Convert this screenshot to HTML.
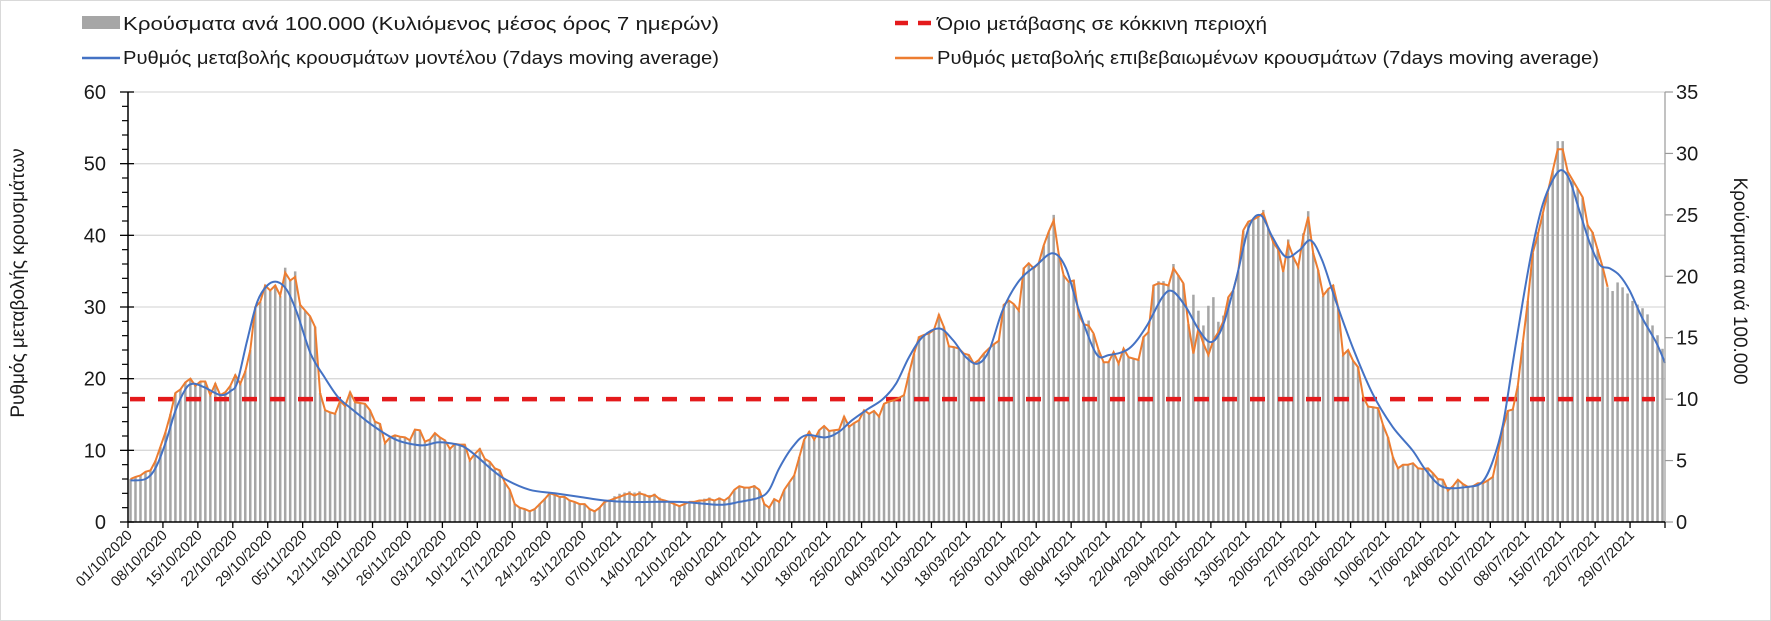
<!DOCTYPE html>
<html><head><meta charset="utf-8">
<style>
html,body{margin:0;padding:0;background:#fff;}
svg{display:block;font-family:"Liberation Sans",Arial,sans-serif;}
</style></head>
<body>
<svg id="chart" width="1771" height="621" viewBox="0 0 1771 621" xmlns="http://www.w3.org/2000/svg">
<rect x="0.5" y="0.5" width="1770" height="620" fill="#fff" stroke="#d9d9d9"/>
<g id="grid"></g>
<g id="bars"></g>
<line id="redline" stroke="#e41a1c" stroke-width="4.5" stroke-dasharray="15,13"/>
<path id="orange" fill="none" stroke="#ed7d31" stroke-width="2"/>
<path id="blue" fill="none" stroke="#4472c4" stroke-width="2"/>
<g id="axes"></g>
<g font-size="18" fill="#1a1a1a">
  <g>
    <rect x="82" y="16" width="38" height="13" fill="#a6a6a6"/>
    <text x="123" y="30" textLength="596" lengthAdjust="spacingAndGlyphs">Κρούσματα ανά 100.000 (Κυλιόμενος μέσος όρος 7 ημερών)</text>
  </g>
  <g>
    <line x1="82" y1="58" x2="120" y2="58" stroke="#4472c4" stroke-width="2.5"/>
    <text x="123" y="64" textLength="596" lengthAdjust="spacingAndGlyphs">Ρυθμός μεταβολής κρουσμάτων μοντέλου (7days moving average)</text>
  </g>
  <g>
    <line x1="895" y1="23" x2="933" y2="23" stroke="#e41a1c" stroke-width="4.5" stroke-dasharray="13,10"/>
    <text x="937" y="30" textLength="330" lengthAdjust="spacingAndGlyphs">Όριο μετάβασης σε κόκκινη περιοχή</text>
  </g>
  <g>
    <line x1="895" y1="58" x2="933" y2="58" stroke="#ed7d31" stroke-width="2.5"/>
    <text x="937" y="64" textLength="662" lengthAdjust="spacingAndGlyphs">Ρυθμός μεταβολής επιβεβαιωμένων κρουσμάτων (7days moving average)</text>
  </g>
</g>
<text transform="translate(24,283) rotate(-90)" text-anchor="middle" font-size="19" fill="#1a1a1a">Ρυθμός μεταβολής κρουσμάτων</text>
<text transform="translate(1734,281) rotate(90)" text-anchor="middle" font-size="19" fill="#1a1a1a">Κρούσματα ανά 100.000</text>
</svg>
<script>
const barVals = [
3.5,3.7,3.8,4.1,4.2,5.0,6.1,7.3,8.8,10.5,
10.8,11.4,11.7,11.1,11.4,11.4,10.3,11.3,10.3,10.6,
11.1,12,11.3,12.3,14,17.5,17.9,19.3,18.8,19.3,
18.4,20.7,19.7,20.4,17.7,17.2,16.7,15.9,10.5,9.1,
8.9,8.8,9.9,9.5,10.6,9.7,9.7,9.6,9.1,8.2,
8.0,6.4,6.9,7.1,6.9,6.9,6.7,7.5,7.5,6.5,
6.7,7.2,6.9,6.7,6.0,6.4,6.3,6.3,5.0,5.5,
6.0,5.1,4.9,4.4,4.2,3.2,2.6,1.5,1.2,1.1,
0.9,1.0,1.5,1.9,2.3,2.2,2.0,2.0,1.8,1.6,
1.5,1.5,1.1,0.9,1.2,1.6,1.8,2.1,2.3,2.4,
2.5,2.4,2.5,2.3,2.2,2.3,2.0,1.8,1.6,1.5,
1.3,1.5,1.6,1.7,1.8,1.9,2.0,1.8,2.0,1.8,
2.0,2.6,2.9,2.8,2.8,3.0,2.6,1.5,1.2,1.9,
1.6,2.6,3.2,3.8,5.3,6.7,7.4,6.7,7.5,7.8,
7.4,7.5,7.5,8.6,7.8,8.1,8.3,9.1,8.8,9.0,
8.6,9.6,9.8,9.9,10.1,10.3,12.1,13.7,15.1,15.2,
15.3,15.6,16.9,15.9,14.3,14.2,14.1,13.7,13.6,12.9,
13.2,13.7,14.1,14.5,14.8,17.7,18.0,17.7,17.2,20.7,
21.1,20.7,21.1,22.5,23.6,25.0,21.8,20.1,19.5,19.7,
16.9,16.1,16.4,15.3,14,13,13,13.8,12.9,14.1,
13.4,13.3,13.2,15.1,15.5,19.3,19.6,19.6,19.3,21,
20.1,19.4,16.1,18.5,17.2,16,17.6,18.3,16.3,16.8,
18.3,18.8,20.4,23.7,24.4,24.6,24.9,25.4,23.9,22.8,
22.2,20.4,23,21.6,20.8,23.5,25.3,21.9,20.5,18.4,
19,19.3,17.5,13.6,14,13.1,12.6,10.2,9.4,9.3,
9.3,7.9,6.9,5.3,4.4,4.7,4.7,4.8,4.4,4.3,
4.4,4.0,3.5,3.4,2.6,2.9,3.4,3.1,2.9,2.9,
3.2,3.2,3.4,3.7,5.5,7.6,9.0,9.2,11.1,14.6,
18,21.9,23.6,25.1,26.8,28.6,31,31,28.5,27.8,
27.1,26.4,24.2,23.6,22.2,20.8,19.1,18.8,19.5,19.1,
18.6,18.0,17.7,17.4,16.9,16.0,15.2,14.1];

const orangeVals = [
6.0,6.3,6.5,7.0,7.2,8.5,10.5,12.5,15,18,
18.5,19.5,20,19,19.6,19.6,17.7,19.3,17.7,18.1,
19,20.5,19.3,21,24,30,30.7,33,32.3,33,
31.6,34.8,33.7,34.2,30.3,29.5,28.7,27.2,18,15.6,
15.3,15.1,16.9,16.2,18.1,16.7,16.6,16.5,15.6,14,
13.7,11,11.8,12.1,11.9,11.8,11.4,12.9,12.8,11.2,
11.5,12.4,11.8,11.4,10.2,10.9,10.8,10.8,8.6,9.5,
10.2,8.8,8.4,7.5,7.2,5.5,4.5,2.5,2,1.8,
1.5,1.8,2.5,3.2,4,3.8,3.5,3.5,3,2.8,
2.5,2.5,1.8,1.5,2,2.8,3,3.3,3.5,3.8,
4,3.7,4,3.8,3.5,3.8,3.2,3,2.8,2.5,
2.2,2.5,2.8,2.8,3,3,3.2,3,3.3,3,
3.5,4.5,5,4.8,4.8,5,4.5,2.5,2,3.2,
2.8,4.5,5.5,6.5,9,11.5,12.6,11.5,12.8,13.4,
12.7,12.8,12.9,14.7,13.3,13.8,14.2,15.6,15.1,15.5,
14.7,16.5,16.8,17,17.3,17.7,20.7,23.5,25.8,26.1,
26.3,26.8,28.9,27.2,24.5,24.4,24.2,23.5,23.3,22.1,
22.6,23.5,24.2,24.8,25.3,30.3,30.9,30.4,29.5,35.4,
36.1,35.4,36.1,38.6,40.5,42.1,37.4,34.4,33.5,33.7,
29,27.6,27.4,26.3,24,22.3,22.3,23.7,22.1,24.2,
23,22.8,22.6,25.8,26.5,33,33.3,33.2,33,35.4,
34.4,33.3,27.6,23.5,27,24.9,23.3,25.4,26.5,28,
31.4,32.3,35,40.7,41.9,42.2,42.6,43.1,41,39,
38,34.9,38.9,37,35.6,39.8,42.6,37.5,35.1,31.6,
32.5,33,30,23.3,24,22.5,21.6,17.5,16.1,16,
15.9,13.5,11.8,9,7.5,8,8,8.2,7.5,7.4,
7.5,6.8,6,5.9,4.4,5,5.9,5.3,4.9,5,
5.4,5.4,5.8,6.3,9.5,13,15.5,15.7,19,25,
30.8,37.6,40,43,46,49,52,52,48.9,47.7,
46.5,45.3,41.4,40.4,38,35.6,32.8];

const blueDays = [0,3,5,7,9,11,12.5,14.8,18.1,20.1,21.4,23.4,25.4,27.4,29.4,31.4,33.4,36.1,38.8,41.5,44.1,47.5,50.8,53.5,56.1,58.8,61.5,64.1,66.8,69.5,72.1,75,80,85,90,95,100,110,118,122,
126,128,130,132.7,135.3,139.3,142,144.6,147.4,150.7,153.4,156,158.7,162.1,164.8,167.4,169.8,172.1,174.8,178.1,181.5,184.8,187.4,190.1,193.5,196.1,200.1,203.5,206.8,208.8,211.5,214.1,216.5,218.8,221.5,224.1,226.5,228.8,231.5,234.2,236.5,238.8,241.5,244.9,248.9,252.9,256.9,259.6,263,268,270.9,273,275,277,279,281,283,285,286.7,288.4,290.4,292.4,294.4,296.4,298.4,300.4,303,305.7,307.5];
const blueVals = [5.8,6.0,7.5,11,15.5,18.5,19.3,18.8,17.7,18.3,19.5,25.4,30.7,33,33.5,32.3,29.1,23.5,20.3,17.5,15.9,14,12.4,11.4,10.9,10.7,11.1,11.0,10.5,9.1,7.5,6,4.5,4,3.5,3,2.8,2.8,2.4,2.8,
3.4,4.5,7.5,10.5,12.1,11.8,12.6,14.2,15.6,17.1,19.3,23.0,25.8,27.0,25.4,23,22.1,24,29.6,33.7,35.8,37.5,35.5,29.5,23.5,23.3,24.2,27.2,31.4,32.2,30.0,26.8,25.1,27.2,33.7,41.1,42.8,39.8,37.0,37.9,39.3,36.5,30.9,24.4,17.9,13.3,10.0,7.2,4.9,4.9,5.6,8.5,13.5,22.2,30.8,38.5,44.3,47.7,49.1,47.7,43.3,39.0,35.9,35.4,34.4,32.3,28.4,25.1,22.2];

const thresholdRight = [10];
const leftTicks = [0,10,20,30,40,50,60];
const rightTicks = [0,5,10,15,20,25,30,35];
const startDate = [2020, 9, 1];

const NS = "http://www.w3.org/2000/svg";
const X0 = 128, X1 = 1665, Y0 = 522, Y1 = 92;
const nDays = barVals.length;
const dw = (X1 - X0) / nDays;
const xDay = d => X0 + (d + 0.5) * dw;
const xTick = d => X0 + d * dw;
const yL = v => Y0 - v / 60 * (Y0 - Y1);
const yR = v => Y0 - v / 35 * (Y0 - Y1);
function mk(tag, attrs, parent) {
  const e = document.createElementNS(NS, tag);
  for (const k in attrs) e.setAttribute(k, attrs[k]);
  parent.appendChild(e);
  return e;
}
const grid = document.getElementById('grid');
const axes = document.getElementById('axes');
leftTicks.forEach(v => {
  if (v > 0) {
    const g = mk('line', {x1: X0, x2: X1, y1: yL(v), y2: yL(v), stroke: '#d9d9d9', 'stroke-width': 1.3}, grid);
    
    
  }
  const t = mk('text', {x: 106, y: yL(v) + 7, 'text-anchor': 'end', 'font-size': 20, fill: '#1a1a1a'}, axes);
  t.textContent = v;
  
  
  mk('line', {x1: X0 - 8, x2: X0 + 6, y1: yL(v), y2: yL(v), stroke: '#000', 'stroke-width': 1.3}, axes);
});
for (let v = 2; v < 60; v += 2) {
  if (v % 10) mk('line', {x1: X0 - 6, x2: X0, y1: yL(v), y2: yL(v), stroke: '#000', 'stroke-width': 1.2}, axes);
}
rightTicks.forEach(v => {
  mk('line', {x1: X1, x2: X1 + 8, y1: yR(v), y2: yR(v), stroke: '#999', 'stroke-width': 1.2}, axes);
  const t = mk('text', {x: 1676, y: yR(v) + 7, 'font-size': 20, fill: '#1a1a1a'}, axes);
  t.textContent = v;
  
  
});
mk('line', {x1: X0, x2: X0, y1: Y1, y2: Y0, stroke: '#000', 'stroke-width': 1.5}, axes);
mk('line', {x1: X1, x2: X1, y1: Y1, y2: Y0, stroke: '#999', 'stroke-width': 1.2}, axes);
mk('line', {x1: X0, x2: X1, y1: Y0, y2: Y0, stroke: '#000', 'stroke-width': 1.5}, axes);

const bars = document.getElementById('bars');
barVals.forEach((v, i) => {
  const r = mk('rect', {x: xDay(i) - 1.25, y: yR(v), width: 2.5, height: Y0 - yR(v), fill: '#a6a6a6'}, bars);
  
  
});

// x ticks & date labels
const sd = new Date(Date.UTC(startDate[0], startDate[1], startDate[2]));
for (let d = 0; d <= nDays; d += 7) {
  const x = xTick(d);
  mk('line', {x1: x, x2: x, y1: Y0, y2: Y0 + 6, stroke: '#000', 'stroke-width': 1.3}, axes);
  if (d + 7 > nDays) continue;
  const dt = new Date(sd.getTime() + d * 86400000);
  const s = String(dt.getUTCDate()).padStart(2, '0') + '/' + String(dt.getUTCMonth() + 1).padStart(2, '0') + '/' + dt.getUTCFullYear();
  const t = mk('text', {x: 0, y: 0, 'text-anchor': 'end', 'font-size': 14.5, fill: '#1a1a1a', transform: `translate(${x + 5},${Y0 + 14}) rotate(-45)`}, axes);
  t.textContent = s;
  
  
}

const rl = document.getElementById('redline');
rl.setAttribute('x1', X0 + 2); rl.setAttribute('x2', X1 - 10);
rl.setAttribute('y1', yR(thresholdRight[0])); rl.setAttribute('y2', yR(thresholdRight[0]));

document.getElementById('orange').setAttribute('d',
  orangeVals.map((v, i) => (i ? 'L' : 'M') + xDay(i).toFixed(1) + ',' + yL(v).toFixed(1)).join(''));

const pts = blueDays.map((d, i) => [xDay(d), yL(blueVals[i])]);
let p = 'M' + pts[0][0] + ',' + pts[0][1];
for (let i = 0; i < pts.length - 1; i++) {
  const a = pts[Math.max(i - 1, 0)], b = pts[i], c = pts[i + 1], e = pts[Math.min(i + 2, pts.length - 1)];
  const c1 = [b[0] + (c[0] - a[0]) / 6, b[1] + (c[1] - a[1]) / 6];
  const c2 = [c[0] - (e[0] - b[0]) / 6, c[1] - (e[1] - b[1]) / 6];
  p += `C${c1[0].toFixed(1)},${c1[1].toFixed(1)} ${c2[0].toFixed(1)},${c2[1].toFixed(1)} ${c[0].toFixed(1)},${c[1].toFixed(1)}`;
}
document.getElementById('blue').setAttribute('d', p);
</script>
</body></html>
